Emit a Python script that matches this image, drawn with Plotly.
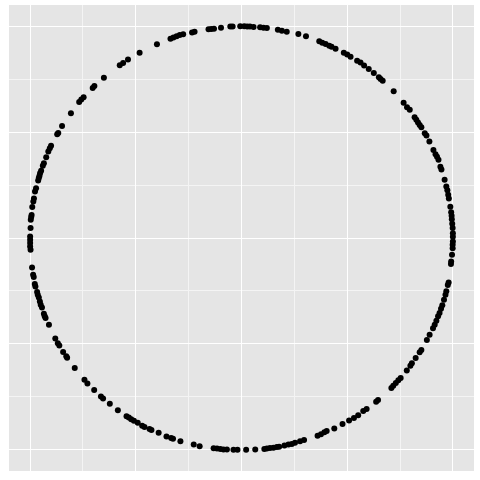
import plotly.graph_objects as go

# Points (unit circle), grouped by quadrant
x_upper_left = [-0.998, -1.000, -1.000, -1.000, -1.000, -0.998,
                -0.997, -0.995, -0.993, -0.990, -0.985, -0.982, -0.977, -0.972,
                -0.962, -0.959, -0.956, -0.953, -0.948, -0.940, -0.935, -0.924,
                -0.914, -0.907, -0.901, -0.872, -0.867, -0.849, -0.807, -0.768,
                -0.758, -0.747, -0.704, -0.696, -0.651, -0.576, -0.560, -0.537,
                -0.482, -0.400, -0.336, -0.322, -0.307, -0.292, -0.276, -0.234,
                -0.222, -0.156, -0.143, -0.130, -0.097, -0.053, -0.042, -0.006]
y_upper_left = [0.047, 0.007, -0.008, -0.024, -0.040, -0.056,
                0.086, 0.099, 0.109, 0.146, 0.172, 0.186, 0.219, 0.235,
                0.272, 0.283, 0.293, 0.306, 0.318, 0.341, 0.353, 0.381,
                0.408, 0.424, 0.435, 0.490, 0.496, 0.529, 0.589, 0.642,
                0.654, 0.665, 0.708, 0.718, 0.757, 0.816, 0.826, 0.843,
                0.875, 0.915, 0.941, 0.946, 0.952, 0.958, 0.962, 0.970,
                0.974, 0.985, 0.987, 0.988, 0.993, 0.998, 0.998, 1.000]

x_upper_right = [0.013, 0.027, 0.040, 0.057, 0.088, 0.104, 0.120, 0.172, 0.191,
                 0.214, 0.269, 0.305, 0.368, 0.382, 0.398, 0.415, 0.426, 0.445,
                 0.484, 0.500, 0.516, 0.547, 0.563, 0.580, 0.602, 0.626, 0.650,
                 0.658, 0.668, 0.720, 0.767, 0.783, 0.796, 0.819, 0.827, 0.835,
                 0.843, 0.851, 0.867, 0.875, 0.889, 0.908, 0.918, 0.925, 0.932,
                 0.941, 0.946, 0.961, 0.969, 0.974, 0.978, 0.981, 0.988, 0.992,
                 0.994, 0.995, 0.997, 0.999, 1.000, 1.000]
y_upper_right = [1.000, 0.999, 0.999, 0.996, 0.995, 0.993, 0.992, 0.983, 0.979,
                 0.974, 0.963, 0.952, 0.929, 0.922, 0.916, 0.908, 0.903, 0.894,
                 0.875, 0.866, 0.856, 0.837, 0.828, 0.814, 0.798, 0.779, 0.759,
                 0.751, 0.742, 0.693, 0.639, 0.617, 0.605, 0.570, 0.558, 0.545,
                 0.534, 0.523, 0.495, 0.484, 0.455, 0.415, 0.395, 0.383, 0.369,
                 0.336, 0.323, 0.275, 0.243, 0.226, 0.204, 0.186, 0.147, 0.121,
                 0.105, 0.088, 0.067, 0.047, 0.023, 0.006]

x_lower_right = [1.000, 0.999, 0.999, 0.996, 0.992, 0.991, 0.980, 0.976, 0.969,
                 0.965, 0.958, 0.950, 0.944, 0.937, 0.930, 0.922, 0.914, 0.906,
                 0.890, 0.877, 0.851, 0.843, 0.824, 0.806, 0.799, 0.782, 0.753,
                 0.742, 0.730, 0.718, 0.709, 0.646, 0.637, 0.592, 0.576, 0.552,
                 0.532, 0.509, 0.478, 0.439, 0.403, 0.392, 0.376, 0.360, 0.296,
                 0.277, 0.253, 0.238, 0.222, 0.203, 0.178, 0.167, 0.151, 0.135,
                 0.120, 0.108, 0.065, 0.022]
y_lower_right = [-0.016, -0.032, -0.048, -0.079, -0.111, -0.123, -0.210, -0.222, -0.251,
                 -0.268, -0.292, -0.317, -0.334, -0.354, -0.370, -0.391, -0.409, -0.426,
                 -0.457, -0.482, -0.529, -0.539, -0.567, -0.591, -0.603, -0.625, -0.661,
                 -0.672, -0.684, -0.697, -0.708, -0.765, -0.773, -0.807, -0.817, -0.837,
                 -0.850, -0.861, -0.878, -0.899, -0.911, -0.917, -0.927, -0.934, -0.954,
                 -0.960, -0.967, -0.972, -0.975, -0.980, -0.985, -0.987, -0.990, -0.992,
                 -0.994, -0.996, -0.999, -1.000]

x_lower_left = [-0.019, -0.038, -0.069, -0.085, -0.100, -0.116, -0.132, -0.198,
                -0.226, -0.289, -0.324, -0.333, -0.355, -0.392, -0.426, -0.435,
                -0.459, -0.470, -0.491, -0.509, -0.522, -0.533, -0.544, -0.585,
                -0.623, -0.655, -0.665, -0.697, -0.729, -0.743, -0.789, -0.825,
                -0.829, -0.844, -0.862, -0.869, -0.881, -0.911, -0.927, -0.931,
                -0.935, -0.944, -0.950, -0.954, -0.959, -0.964, -0.967, -0.975,
                -0.978, -0.983, -0.986, -0.991]
y_lower_left = [-1.000, -1.000, -0.999, -0.998, -0.996, -0.994, -0.993, -0.983,
                -0.975, -0.959, -0.948, -0.944, -0.937, -0.920, -0.906, -0.902,
                -0.892, -0.886, -0.872, -0.863, -0.856, -0.848, -0.841, -0.813,
                -0.783, -0.758, -0.748, -0.718, -0.687, -0.669, -0.614, -0.565,
                -0.558, -0.538, -0.508, -0.497, -0.475, -0.410, -0.378, -0.369,
                -0.358, -0.328, -0.315, -0.300, -0.281, -0.268, -0.255, -0.229,
                -0.217, -0.184, -0.174, -0.139]

x_all = x_upper_left + x_upper_right + x_lower_right + x_lower_left
y_all = y_upper_left + y_upper_right + y_lower_right + y_lower_left

fig = go.Figure()
fig.add_trace(go.Scatter(
    x=x_all, y=y_all, mode="markers",
    marker=dict(color="black", size=6, line=dict(width=0)),
    hoverinfo="skip", showlegend=False,
))

axis_common = dict(
    range=[-1.1, 1.1], dtick=0.5, tick0=0,
    showticklabels=False, ticks="", zeroline=False, showline=False,
    showgrid=True, gridcolor="white", gridwidth=1.4,
    minor=dict(dtick=0.25, tick0=0, showgrid=True, gridcolor="#F4F4F4", gridwidth=0.7),
)

fig.update_layout(
    width=480, height=480,
    margin=dict(l=8.5, r=5.5, t=5, b=8.5),
    paper_bgcolor="white",
    plot_bgcolor="#E5E5E5",
    xaxis=axis_common,
    yaxis=axis_common,
)

fig.write_html("out.html")
